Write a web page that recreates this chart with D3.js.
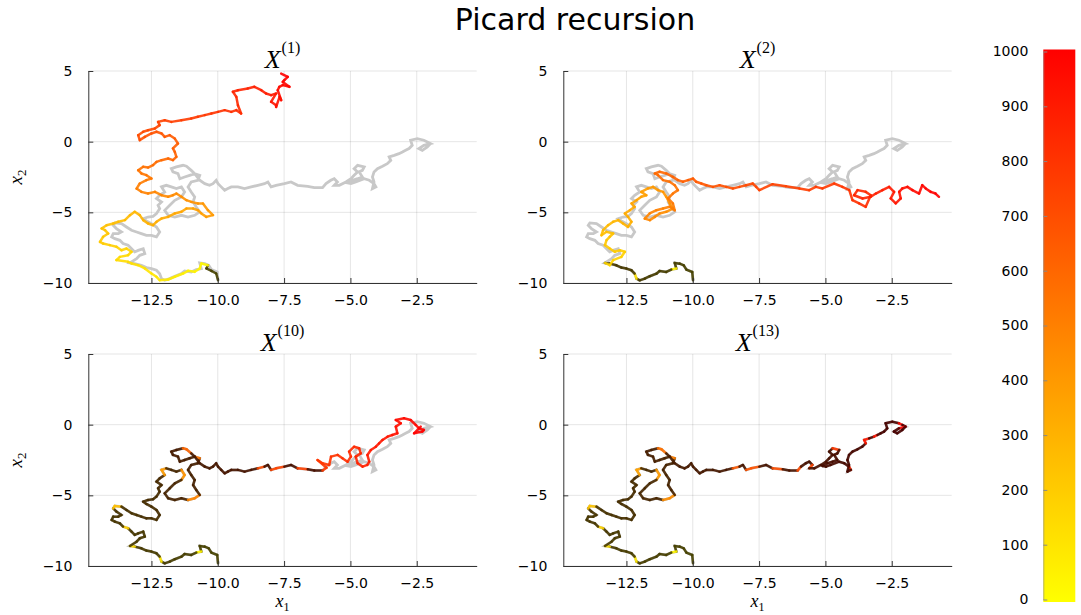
<!DOCTYPE html>
<html>
<head>
<meta charset="utf-8">
<script src="https://cdn.jsdelivr.net/npm/d3@7"></script>
<style>
  body { margin: 0; background: #fff; }
</style>
</head>
<body>
<div id="chart"></div>
<script>
// ---- data ----

// reference path (gray), also followed by X^(10) and X^(13)
const truePath = [
  [-9.99,-9.81],[-10.02,-9.22],[-10.24,-9.05],[-10.34,-8.75],[-10.49,-8.63],[-10.68,-8.58],
  [-10.62,-8.98],[-10.81,-9.05],[-11.00,-9.22],[-11.25,-9.15],[-11.37,-9.34],[-11.62,-9.52],
  [-11.81,-9.69],[-12.00,-9.81],[-12.12,-9.69],[-12.19,-9.34],[-12.31,-9.10],[-12.50,-8.98],
  [-12.69,-8.91],[-12.88,-8.75],[-13.13,-8.63],[-13.31,-8.58],[-13.06,-8.28],[-12.94,-8.04],
  [-12.75,-7.92],[-12.81,-7.57],[-13.00,-7.69],[-13.13,-7.80],[-13.25,-7.57],[-13.38,-7.33],
  [-13.57,-7.21],[-13.69,-6.98],[-13.88,-6.86],[-14.00,-6.74],[-13.94,-6.51],[-13.75,-6.51],
  [-13.63,-6.39],[-13.82,-6.15],[-13.94,-5.92],[-13.88,-5.75],[-13.63,-5.80],[-13.44,-6.04],
  [-13.25,-6.27],[-13.06,-6.39],[-12.88,-6.51],[-12.69,-6.63],[-12.50,-6.63],[-12.31,-6.74],
  [-12.19,-6.39],[-12.31,-6.04],[-12.50,-5.80],[-12.69,-5.61],[-12.81,-5.45],[-12.63,-5.33],
  [-12.44,-5.28],[-12.31,-5.09],[-12.19,-4.74],[-12.25,-4.50],[-12.12,-4.27],[-12.31,-4.03],
  [-12.19,-3.80],[-12.00,-3.56],[-12.12,-3.20],[-11.94,-3.09],[-11.75,-3.20],[-11.56,-3.32],
  [-11.37,-3.20],[-11.25,-3.56],[-11.37,-3.91],[-11.62,-4.15],[-11.81,-4.50],[-12.00,-4.86],
  [-11.87,-5.21],[-11.62,-5.33],[-11.37,-5.21],[-11.12,-5.33],[-10.87,-5.21],[-10.68,-4.97],
  [-10.81,-4.62],[-10.93,-4.27],[-10.87,-3.91],[-11.00,-3.56],[-11.12,-3.20],[-11.00,-2.85],
  [-10.75,-2.73],[-10.68,-2.38],[-10.87,-2.26],[-11.06,-2.38],[-11.25,-2.50],[-11.43,-2.62],
  [-11.50,-2.26],[-11.69,-2.14],[-11.75,-1.91],[-11.56,-1.79],[-11.31,-1.67],[-11.18,-1.74],
  [-11.00,-2.03],[-10.87,-2.26],[-10.68,-2.73],[-10.49,-2.97],[-10.31,-3.09],[-10.18,-2.97],
  [-10.06,-2.73],[-9.99,-2.97],[-9.87,-3.20],[-9.74,-3.44],[-9.62,-3.32],[-9.49,-3.20],
  [-9.24,-3.20],[-8.99,-3.32],[-8.74,-3.20],[-8.49,-3.09],[-8.24,-2.97],[-8.11,-2.85],
  [-7.99,-3.20],[-7.80,-3.09],[-7.49,-2.97],[-7.24,-2.85],[-6.99,-3.09],[-6.61,-3.16],
  [-6.36,-3.25],[-6.05,-3.25],[-5.92,-2.97],[-5.74,-2.73],[-5.61,-2.62],[-5.49,-2.85],
  [-5.61,-3.09],[-5.42,-3.09],[-5.17,-2.85],[-4.98,-2.62],[-4.86,-2.38],[-4.73,-2.14],
  [-4.86,-1.91],[-4.73,-1.67],[-4.48,-1.79],[-4.55,-2.03],[-4.67,-2.14],[-4.55,-2.50],
  [-4.73,-2.62],[-4.92,-2.73],[-5.11,-2.92],[-4.98,-2.97],[-4.80,-2.85],[-4.48,-2.62],
  [-4.29,-2.73],[-4.11,-2.97],[-4.04,-3.20],[-4.17,-3.32],[-4.11,-2.85],[-4.17,-2.50],
  [-4.11,-2.14],[-3.98,-1.91],[-3.79,-1.74],[-3.61,-1.56],[-3.48,-1.32],[-3.54,-1.08],
  [-3.35,-0.97],[-3.17,-0.85],[-3.04,-0.73],[-2.92,-0.61],[-2.79,-0.49],[-2.67,-0.26],
  [-2.73,0.10],[-2.48,0.21],[-2.23,0.10],[-2.10,-0.02],[-1.98,-0.14],[-2.23,-0.26],
  [-2.42,-0.49],[-2.29,-0.61],[-2.10,-0.37],[-1.98,-0.14]
];

// first Picard iterate
const x1Path = [
  [-9.99,-9.80],[-10.06,-9.33],[-10.24,-9.14],[-10.43,-8.97],[-10.37,-8.74],[-10.62,-8.62],
  [-10.68,-8.97],[-10.87,-9.21],[-11.12,-9.14],[-11.31,-9.33],[-11.62,-9.56],[-11.87,-9.75],
  [-12.19,-9.80],[-12.31,-9.56],[-12.50,-9.33],[-12.75,-8.97],[-13.00,-8.74],[-13.25,-8.62],
  [-13.38,-8.50],[-13.82,-8.38],[-13.69,-8.15],[-13.38,-8.03],[-13.25,-7.79],[-13.44,-7.56],
  [-13.63,-7.68],[-13.82,-7.44],[-14.07,-7.32],[-14.32,-7.21],[-14.44,-7.09],[-14.32,-6.73],
  [-14.13,-6.50],[-14.25,-6.26],[-14.38,-6.14],[-14.19,-5.91],[-13.94,-5.79],[-13.75,-5.67],
  [-13.50,-5.55],[-13.31,-5.20],[-13.13,-4.96],[-12.94,-5.20],[-12.81,-5.55],[-12.63,-5.79],
  [-12.44,-5.91],[-12.31,-5.67],[-12.12,-5.44],[-11.87,-5.32],[-11.62,-5.08],[-11.37,-4.96],
  [-11.18,-4.73],[-10.93,-4.73],[-10.75,-4.85],[-10.62,-5.08],[-10.43,-5.32],[-10.18,-5.20],
  [-10.37,-4.85],[-10.56,-4.38],[-10.75,-4.38],[-11.00,-4.26],[-11.18,-4.14],[-11.37,-3.90],
  [-11.56,-3.67],[-11.69,-3.79],[-11.87,-3.90],[-12.12,-3.79],[-12.37,-3.55],[-12.63,-3.67],
  [-12.88,-3.55],[-13.06,-3.32],[-12.94,-2.96],[-12.69,-2.72],[-12.50,-2.61],[-12.69,-2.37],
  [-12.88,-2.25],[-13.00,-2.02],[-12.81,-1.78],[-12.63,-1.83],[-12.44,-1.66],[-12.31,-1.43],
  [-12.12,-1.31],[-11.87,-1.19],[-11.69,-1.31],[-11.56,-1.07],[-11.62,-0.72],[-11.69,-0.48],
  [-11.50,-0.13],[-11.62,0.22],[-11.81,0.46],[-12.00,0.34],[-12.12,0.58],[-12.31,0.70],
  [-12.50,0.58],[-12.75,0.34],[-12.94,0.11],[-13.00,0.46],[-12.81,0.70],[-12.63,0.81],
  [-12.37,0.93],[-12.19,1.17],[-12.25,1.40],[-12.00,1.52],[-11.75,1.40],[-11.37,1.52],
  [-11.00,1.64],[-10.75,1.76],[-10.49,1.88],[-10.24,1.99],[-9.99,2.11],[-9.74,2.23],
  [-9.49,2.11],[-9.30,2.23],[-9.12,1.99],[-9.24,2.58],[-9.30,3.17],[-9.43,3.53],
  [-9.24,3.64],[-8.87,3.76],[-8.62,3.88],[-8.36,3.64],[-8.18,3.41],[-7.99,3.29],
  [-7.80,3.41],[-7.99,2.82],[-7.80,2.58],[-7.80,2.46],[-7.67,3.17],[-7.61,2.94],
  [-7.74,3.64],[-7.68,3.88],[-7.55,4.00],[-7.30,3.88],[-7.55,4.23],[-7.49,4.35],
  [-7.36,4.59],[-7.61,4.82]
];

// second iterate: shares the start of truePath, then its own tail
const x2Tail = [
  [-13.13,-8.74],[-13.00,-8.38],[-12.69,-8.15],[-12.56,-7.79],[-12.75,-7.68],[-12.94,-7.79],
  [-13.13,-7.56],[-13.31,-7.32],[-13.25,-6.97],[-13.13,-6.73],[-13.00,-6.50],[-13.25,-6.38],
  [-13.44,-6.62],[-13.38,-6.26],[-13.19,-5.91],[-13.00,-5.67],[-12.81,-5.55],[-12.63,-5.79],
  [-12.44,-6.03],[-12.31,-5.67],[-12.44,-5.32],[-12.56,-5.08],[-12.37,-4.85],[-12.19,-4.61],
  [-12.31,-4.37],[-12.12,-4.14],[-11.94,-3.90],[-11.75,-3.79],[-11.94,-3.55],[-11.69,-3.31],
  [-11.50,-3.20],[-11.31,-3.43],[-11.12,-3.55],[-11.00,-3.90],[-10.87,-4.37],[-10.75,-4.73],
  [-11.00,-4.96],[-11.25,-5.08],[-11.43,-5.32],[-11.62,-5.55],[-11.81,-5.44],[-11.62,-5.08],
  [-11.37,-4.85],[-11.12,-4.73],[-10.87,-4.61],[-10.68,-4.85],[-10.75,-4.37],[-10.93,-4.02],
  [-10.75,-3.67],[-10.56,-3.43],[-10.68,-3.08],[-10.87,-2.84],[-11.12,-2.72],[-11.31,-2.37],
  [-11.43,-2.25],[-11.25,-2.13],[-11.00,-2.25],[-10.75,-2.49],[-10.56,-2.72],[-10.37,-2.84],
  [-10.18,-2.72],[-9.99,-2.61],[-9.87,-2.84],[-9.68,-2.96],[-9.49,-3.08],[-9.24,-3.20],
  [-8.99,-3.08],[-8.74,-3.20],[-8.49,-3.31],[-8.24,-3.20],[-7.99,-3.08],[-7.74,-2.96],
  [-7.61,-3.20],[-7.49,-3.43],[-6.99,-3.01],[-6.49,-3.15],[-5.98,-3.31],[-5.61,-3.43],
  [-5.36,-3.20],[-5.11,-3.31],[-4.67,-2.96],[-4.36,-3.20],[-4.10,-3.43],[-3.98,-4.14],
  [-3.73,-4.37],[-3.48,-4.61],[-3.29,-3.79],[-3.48,-3.55],[-3.79,-3.43],[-3.92,-3.79],
  [-3.60,-4.02],[-3.29,-3.90],[-3.10,-3.67],[-2.85,-3.43],[-2.60,-3.20],[-2.41,-3.55],
  [-2.54,-4.02],[-2.35,-4.37],[-2.16,-4.02],[-2.22,-3.55],[-2.10,-3.31],[-1.91,-3.20],
  [-1.72,-3.43],[-1.47,-3.67],[-1.35,-3.08],[-1.22,-3.31],[-1.03,-3.55],[-0.85,-3.67],
  [-0.72,-3.90]
];

// tenth iterate: shares truePath up to the split, then this tail
const x10Tail = [
  [-5.90,-3.05],[-6.24,-2.50],[-6.05,-2.73],[-5.80,-2.85],[-5.73,-2.26],[-5.48,-2.14],
  [-5.30,-2.38],[-5.11,-2.62],[-4.98,-2.26],[-5.05,-1.91],[-4.86,-1.56],[-4.67,-1.67],
  [-4.61,-2.03],[-4.80,-2.26],[-4.73,-2.73],[-4.54,-2.97],[-4.36,-2.85],[-4.29,-2.62],
  [-4.36,-2.14],[-4.23,-1.79],[-4.04,-1.56],[-3.92,-1.32],[-3.79,-1.08],[-3.60,-0.85],
  [-3.42,-0.73],[-3.23,-0.61],[-3.29,-0.14],[-3.10,0.10],[-3.29,0.33],[-2.98,0.45],
  [-2.73,0.33],[-2.54,-0.02],[-2.41,-0.26],[-2.23,-0.37],[-2.29,-0.49],[-2.60,-0.61],
  [-2.35,-0.14]
];

// how far each iterate has settled (segments before this index are dark)
const x1DarkEnd = 4;
const x2DarkEnd = 21;
const x10DarkEnd = 121;
const x13DarkEnd = 171;
// segments that stay bright inside the settled part
const x2Bright = [6, 14];
const x13Bright = [6,14,20,29,38,39,61,62,66,67,75,76,85,94,95,111,114,115,118,121,125,133,145,154,155,157,164,166];

const xTicks = [-12.5, -10, -7.5, -5, -2.5];
const yTicks = [-10, -5, 0, 5];
const cbTicks = [0, 100, 200, 300, 400, 500, 600, 700, 800, 900, 1000];

// ---- layout ----
const width = 1081, height = 615;
const plotW = 388.4, plotH = 212;
const xDomain = [-14.88, -0.24];
const yDomain = [-10, 5];

const x2Path = truePath.slice(0, x2DarkEnd + 1).concat(x2Tail);
const x10Path = truePath.slice(0, x10DarkEnd + 1).concat(x10Tail);

const panels = [
  { sup: "(1)",  path: x1Path,    darkEnd: x1DarkEnd,  bright: [],        left: 88.3,  top: 71,  ylab: true,  xlab: false },
  { sup: "(2)",  path: x2Path,    darkEnd: x2DarkEnd,  bright: x2Bright,  left: 563.3, top: 71,  ylab: false, xlab: false },
  { sup: "(10)", path: x10Path,   darkEnd: x10DarkEnd, bright: x13Bright, left: 88.3,  top: 354, ylab: true,  xlab: true },
  { sup: "(13)", path: truePath,  darkEnd: x13DarkEnd, bright: x13Bright, left: 563.3, top: 354, ylab: false, xlab: true }
];

const cmap = d3.scaleLinear().domain([0, 500, 1000])
  .range(["#ffff00", "#ff8000", "#ff0000"]).clamp(true);

const svg = d3.select("#chart").append("svg")
  .attr("width", width)
  .attr("height", height)
  .attr("viewBox", [0, 0, width, height])
  .style("font-family", "'DejaVu Sans', sans-serif");

// Main title
svg.append("text")
  .attr("x", 575)
  .attr("y", 30)
  .attr("text-anchor", "middle")
  .attr("font-size", 30)
  .attr("fill", "#000")
  .text("Picard recursion");

panels.forEach(p => {
  const x = d3.scaleLinear().domain(xDomain).range([p.left, p.left + plotW]);
  const y = d3.scaleLinear().domain(yDomain).range([p.top + plotH, p.top]);
  const g = svg.append("g");

  // grid
  g.selectAll(".gx").data(xTicks).join("line")
    .attr("x1", d => x(d)).attr("x2", d => x(d))
    .attr("y1", p.top).attr("y2", p.top + plotH)
    .attr("stroke", "#000").attr("stroke-opacity", 0.1);
  g.selectAll(".gy").data(yTicks).join("line")
    .attr("x1", p.left).attr("x2", p.left + plotW)
    .attr("y1", d => y(d)).attr("y2", d => y(d))
    .attr("stroke", "#000").attr("stroke-opacity", 0.1);

  // reference path in gray
  g.append("path")
    .datum(truePath)
    .attr("d", d3.line().x(d => x(d[0])).y(d => y(d[1])))
    .attr("fill", "none")
    .attr("stroke", "#c8c8c8")
    .attr("stroke-width", 2.8)
    .attr("stroke-linejoin", "miter");

  // iterate, coloured by time step
  const n = p.path.length;
  const bright = new Set(p.bright);
  const segs = d3.range(n - 1).map(i => ({ a: p.path[i], b: p.path[i + 1], i }));
  g.selectAll(".seg").data(segs).join("line")
    .attr("x1", d => x(d.a[0])).attr("y1", d => y(d.a[1]))
    .attr("x2", d => x(d.b[0])).attr("y2", d => y(d.b[1]))
    .attr("stroke", d => {
      const c = d3.rgb(cmap(d.i / (n - 2) * 1000));
      if (d.i < p.darkEnd && !bright.has(d.i)) {
        return d3.rgb(c.r * 0.28, c.g * 0.26, c.b * 0.28).toString();
      }
      return c.toString();
    })
    .attr("stroke-width", 2.5)
    .attr("stroke-linecap", "round")
    .attr("stroke-opacity", 0.9);

  // axes, ticks pointing inward
  g.append("g")
    .attr("transform", `translate(0,${p.top + plotH})`)
    .call(d3.axisBottom(x).tickValues(xTicks).tickFormat(d3.format(".1f"))
      .tickSizeInner(-5).tickSizeOuter(0).tickPadding(12))
    .call(a => a.select(".domain").attr("stroke", "#333"))
    .call(a => a.selectAll(".tick line").attr("stroke", "#333"))
    .call(a => a.selectAll("text").attr("font-size", 14).attr("fill", "#000")
      .attr("font-family", "'DejaVu Sans', sans-serif"));

  g.append("g")
    .attr("transform", `translate(${p.left},0)`)
    .call(d3.axisLeft(y).tickValues(yTicks).tickFormat(d3.format("d"))
      .tickSizeInner(-5).tickSizeOuter(0).tickPadding(16))
    .call(a => a.select(".domain").attr("stroke", "#333"))
    .call(a => a.selectAll(".tick line").attr("stroke", "#333"))
    .call(a => a.selectAll("text").attr("font-size", 14).attr("fill", "#000")
      .attr("font-family", "'DejaVu Sans', sans-serif"));

  // panel title X^(k)
  const t = g.append("text")
    .attr("x", p.left + plotW / 2)
    .attr("y", p.top - 3)
    .attr("text-anchor", "middle")
    .attr("font-family", "'Liberation Serif', serif")
    .attr("fill", "#000");
  t.append("tspan").attr("font-size", 26).attr("font-style", "italic").text("X");
  t.append("tspan").attr("font-size", 16).attr("dy", -15).attr("dx", 1).text(p.sup);

  if (p.ylab) {
    const yl = g.append("text")
      .attr("transform", `translate(22,${p.top + plotH / 2}) rotate(-90)`)
      .attr("text-anchor", "middle")
      .attr("font-family", "'Liberation Serif', serif")
      .attr("fill", "#000");
    yl.append("tspan").attr("font-size", 19).attr("font-style", "italic").text("x");
    yl.append("tspan").attr("font-size", 13).attr("dy", 4).text("2");
  }
  if (p.xlab) {
    const xl = g.append("text")
      .attr("x", p.left + plotW / 2)
      .attr("y", 607)
      .attr("text-anchor", "middle")
      .attr("font-family", "'Liberation Serif', serif")
      .attr("fill", "#000");
    xl.append("tspan").attr("font-size", 18).attr("font-style", "italic").text("x");
    xl.append("tspan").attr("font-size", 12).attr("dy", 4).text("1");
  }
});

// colour bar
const cbLeft = 1043.3, cbW = 32, cbTop = 49.5, cbBottom = 602;
const cbScale = d3.scaleLinear().domain([0, 1000]).range([599.5, 51.5]);
const defs = svg.append("defs");
const grad = defs.append("linearGradient")
  .attr("id", "cbgrad")
  .attr("x1", 0).attr("y1", 1).attr("x2", 0).attr("y2", 0);
grad.selectAll("stop").data([0, 500, 1000]).join("stop")
  .attr("offset", d => d / 1000)
  .attr("stop-color", d => cmap(d));
svg.append("rect")
  .attr("x", cbLeft).attr("y", cbTop)
  .attr("width", cbW).attr("height", cbBottom - cbTop)
  .attr("fill", "url(#cbgrad)");
svg.append("g")
  .attr("transform", `translate(${cbLeft},0)`)
  .call(d3.axisLeft(cbScale).tickValues(cbTicks).tickFormat(d3.format("d"))
    .tickSizeInner(-4).tickSizeOuter(0).tickPadding(15))
  .call(a => a.select(".domain").attr("stroke", "#888").attr("stroke-width", 0.6))
  .call(a => a.selectAll(".tick line").attr("stroke", "#888"))
  .call(a => a.selectAll("text").attr("font-size", 14).attr("fill", "#000")
    .attr("font-family", "'DejaVu Sans', sans-serif"));
</script>
</body>
</html>
